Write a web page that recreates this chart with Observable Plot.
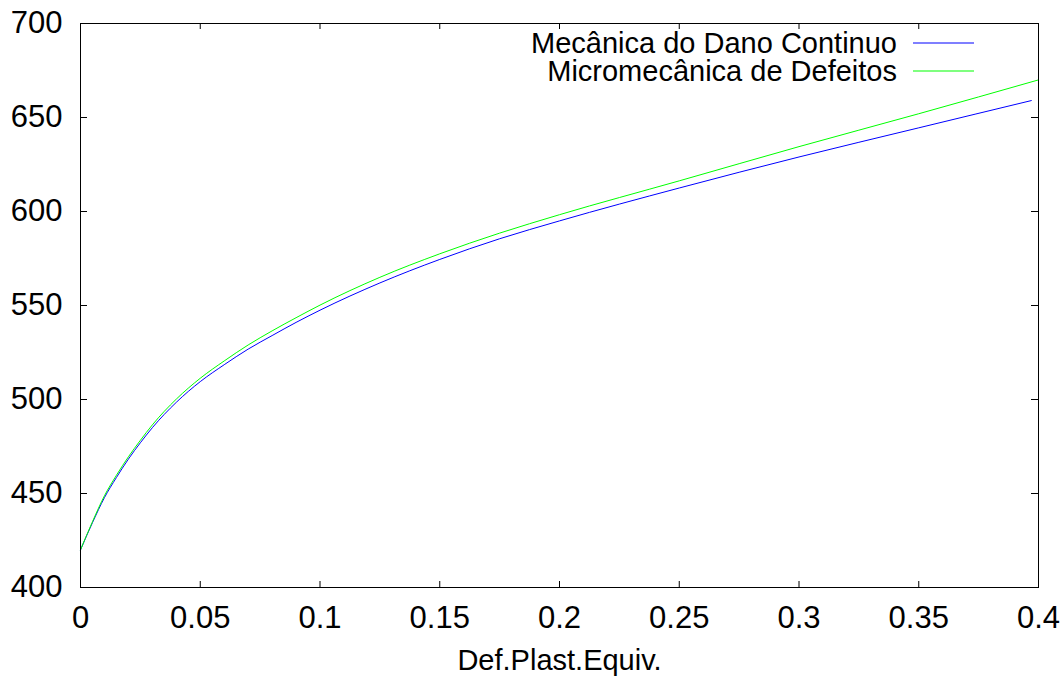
<!DOCTYPE html>
<html>
<head>
<meta charset="utf-8">
<script src="https://cdn.jsdelivr.net/npm/d3@7"></script>
<script src="https://cdn.jsdelivr.net/npm/@observablehq/plot@0.6"></script>
<style>
  html, body { margin: 0; padding: 0; background: #fff; overflow: hidden; }
  #chart svg { display: block; overflow: hidden; }
</style>
</head>
<body>
<div id="chart"></div>
<script>
// ---- data ----
const seriesNames = ["Mecânica do Dano Continuo", "Micromecânica de Defeitos"];
const seriesColors = ["#0000ff", "#00ff00"];

const danoX = [0, 0.005, 0.01, 0.015, 0.02, 0.025, 0.03, 0.04, 0.05, 0.06, 0.07, 0.08, 0.09, 0.1, 0.125, 0.15, 0.175, 0.2, 0.25, 0.3, 0.35, 0.397];
const danoY = [420, 434.5, 447.8, 458.5, 468.3, 477, 485, 498.5, 509.5, 518.5, 526.8, 534, 541, 547.5, 562, 574.5, 585.5, 595, 612.5, 629, 644.5, 659];

const defX = [0, 0.005, 0.01, 0.015, 0.02, 0.025, 0.03, 0.04, 0.05, 0.06, 0.07, 0.08, 0.09, 0.1, 0.125, 0.15, 0.175, 0.2, 0.25, 0.3, 0.35, 0.4];
const defY = [420, 435, 448.8, 459.7, 469.5, 478.3, 486.5, 500.2, 511.3, 520.5, 529, 536.5, 543.5, 550.2, 565, 577.5, 588.5, 598.3, 616.3, 634.5, 652, 670];

const xTicks = [0, 0.05, 0.1, 0.15, 0.2, 0.25, 0.3, 0.35, 0.4];
const xTickLabels = ["0", "0.05", "0.1", "0.15", "0.2", "0.25", "0.3", "0.35", "0.4"];
const yTicks = [400, 450, 500, 550, 600, 650, 700];
const yTickLabels = ["400", "450", "500", "550", "600", "650", "700"];
const xLabel = "Def.Plast.Equiv.";

// ---- build tables ----
const rows = [
  ...danoX.map((x, i) => ({x, y: danoY[i], s: seriesNames[0]})),
  ...defX.map((x, i) => ({x, y: defY[i], s: seriesNames[1]}))
];

const W = 1060, H = 677;
const mL = 80, mR = 22, mT = 23, mB = 90;
const innerW = W - mL - mR, innerH = H - mT - mB;
const tick = 6;
const FONT = "'Liberation Sans', Arial, Helvetica, sans-serif";

const chart = Plot.plot({
  width: W, height: H,
  marginLeft: mL, marginRight: mR, marginTop: mT, marginBottom: mB,
  style: {fontFamily: FONT, fontSize: "31px", background: "#fff", color: "#000"},
  x: {domain: [0, 0.4]},
  y: {domain: [400, 700]},
  color: {domain: seriesNames, range: seriesColors},
  marks: [
    // inward ticks on all four sides
    Plot.ruleX(xTicks, {x: d => d, insetTop: innerH - tick, stroke: "#000", strokeWidth: 1}),
    Plot.ruleX(xTicks, {x: d => d, insetBottom: innerH - tick, stroke: "#000", strokeWidth: 1}),
    Plot.ruleY(yTicks, {y: d => d, insetRight: innerW - tick - 1, stroke: "#000", strokeWidth: 1}),
    Plot.ruleY(yTicks, {y: d => d, insetLeft: innerW - tick - 1, stroke: "#000", strokeWidth: 1}),
    Plot.axisX({ticks: xTicks, tickSize: 0, tickPadding: 18, tickFormat: (d) => xTickLabels[xTicks.indexOf(d)], label: null, fill: "#000"}),
    Plot.axisY({ticks: yTicks, tickSize: 0, tickPadding: 18, tickFormat: (d) => yTickLabels[yTicks.indexOf(d)], label: null, fill: "#000"}),
    Plot.line(rows, {x: "x", y: "y", z: "s", stroke: "s", strokeWidth: 1, curve: "monotone-x"}),
    Plot.frame({stroke: "#000", strokeWidth: 1}),
    Plot.text([xLabel], {frameAnchor: "bottom", dy: 62, lineAnchor: "top", fill: "#000", fontSize: 29})
  ]
});

document.getElementById("chart").appendChild(chart);

// ---- legend (top-right, gnuplot style) ----
const svg = d3.select(chart);
const lg = svg.append("g").attr("font-family", FONT).attr("font-size", 29);
seriesNames.forEach((name, i) => {
  const cy = 43 + i * 28;
  lg.append("text")
    .attr("x", 897).attr("y", cy).attr("dy", "0.35em")
    .attr("text-anchor", "end").attr("fill", "#000").text(name);
  lg.append("line")
    .attr("x1", 913).attr("x2", 974).attr("y1", cy).attr("y2", cy)
    .attr("stroke", seriesColors[i]).attr("stroke-width", 1.2);
});
</script>
</body>
</html>
